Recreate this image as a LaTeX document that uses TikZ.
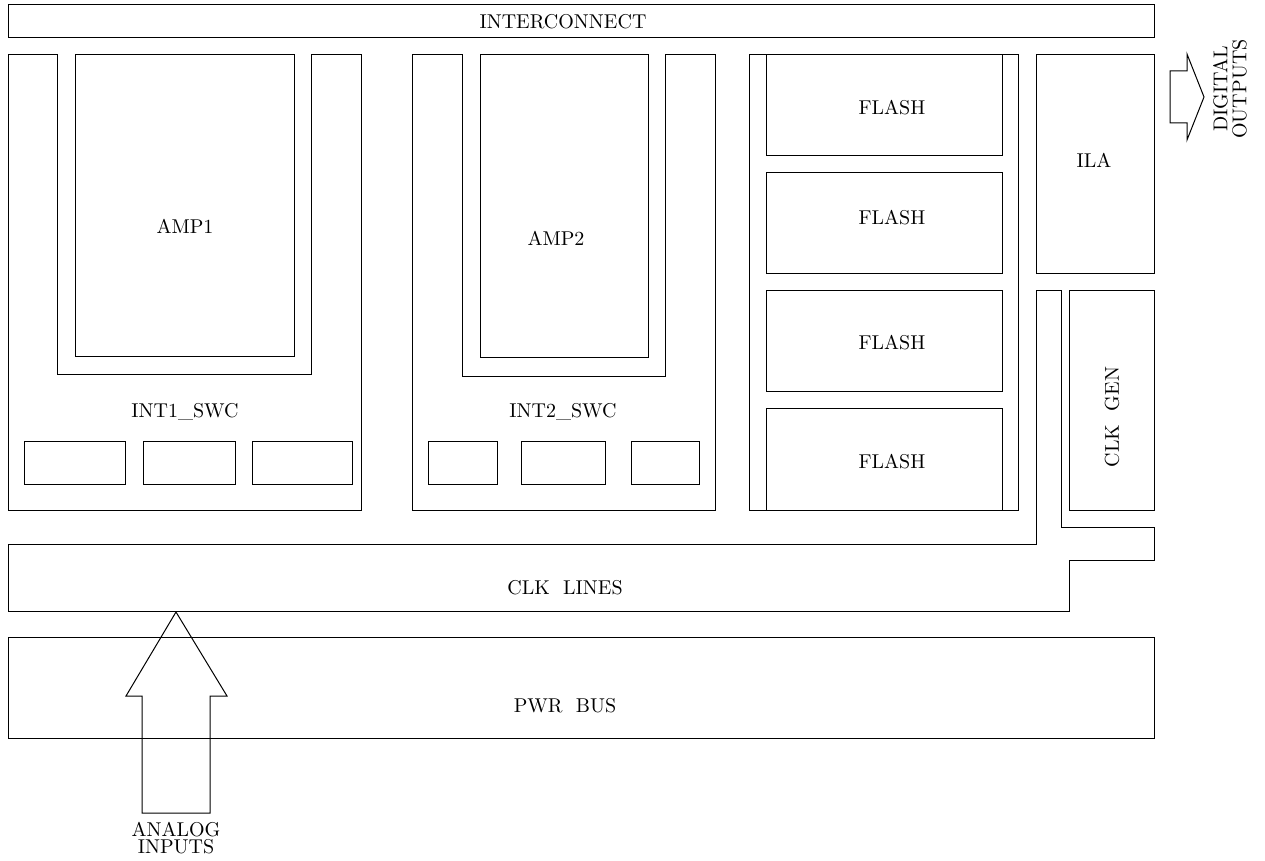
\documentclass[tikz,border=0pt]{standalone}
\begin{document}
\begin{tikzpicture}[x=0.5pt,y=-0.5pt,line width=0.5pt]
            \useasboundingbox (0,0) rectangle (1265,861);

            % Interconnect
            \draw (8,5) rectangle (1154,38);
            \node (interconnect) at (563,22) {INTERCONNECT};

            % Amp 1 and its switches
            \draw (8,55) -- (8,510) -- (361,510) -- (361,55) -- (311,55) --
                (311,375) -- (57,375) -- (57,55) -- cycle;
            \draw (75,55) rectangle (294,357);
            \node (amp1) at (185,226) {AMP1};
            \node (int1) at (185,412) {INT1\_SWC};
            \draw (24,442) rectangle (125,485);
            \draw (143,442) rectangle (235,485);
            \draw (252,442) rectangle (352,485);

            % Amp 2 and its switches
            \draw (412,55) -- (412,510) -- (715,510) -- (715,55) -- (665,55) --
                (665,377) -- (462,377) -- (462,55) -- cycle;
            \draw (480,55) rectangle (648,358);
            \node (amp2) at (556,238) {AMP2};
            \node (int2) at (563,412) {INT2\_SWC};
            \draw (428,442) rectangle (497,485);
            \draw (521,442) rectangle (605,485);
            \draw (631,442) rectangle (699,485);

            % Flash converters
            \draw (749,55) rectangle (1018,510);
            \foreach \top/\bot/\ty [count=\i] in {55/156/108,173/274/218,291/392/343,409/510/462} {
                \draw (766,\top) rectangle (1002,\bot);
                \node (flash\i) at (892,\ty) {FLASH};
            }

            % ILA
            \draw (1036,55) rectangle (1154,274);
            \node (ila) at (1094,160) {ILA};

            % Clock generator
            \draw (1069,291) rectangle (1154,510);
            \node[rotate=90] (clkgen) at (1112,417) {CLK\ \ GEN};

            % Clock lines
            \draw (8,544) -- (1036,544) -- (1036,291) -- (1061,291) --
                (1061,527) -- (1154,527) -- (1154,560) -- (1069,560) --
                (1069,611) -- (8,611) -- cycle;
            \node (clklines) at (565,588) {CLK\ \ LINES};

            % Power bus
            \draw (8,637) rectangle (1154,738);
            \node (pwrbus) at (565,706) {PWR\ \ BUS};

            % Digital outputs
            \draw (1170,71) -- (1187,71) -- (1187,54) -- (1204,97) --
                (1187,140) -- (1187,123) -- (1170,123) -- cycle;
            \node[rotate=90, align=center] (digout) at (1230,89)
                {DIGITAL\\[-2.5pt]OUTPUTS};

            % Analog inputs
            \draw (176,612) -- (227,696) -- (210,696) -- (210,813) --
                (142,813) -- (142,696) -- (126,696) -- cycle;
            \node[align=center] (anain) at (176,838)
                {ANALOG\\[-3.2pt]INPUTS};

\end{tikzpicture}
\end{document}
